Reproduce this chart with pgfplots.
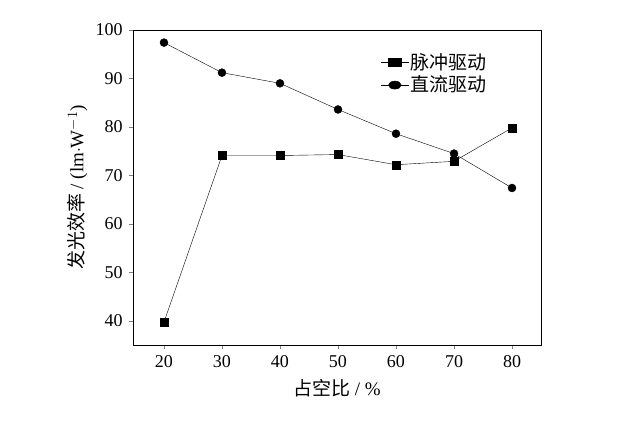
\documentclass[border=0pt]{standalone}
\usepackage{pgfplots}
\pgfplotsset{compat=1.18}
\usepackage{fontspec}
\setmainfont{Liberation Serif}
\newfontfamily\cjk{Noto Sans CJK SC}
\begin{document}
\fontsize{18}{20}\selectfont
\begin{tikzpicture}
\path[use as bounding box] (-133pt,-76pt) rectangle (485pt,345pt);
\begin{axis}[at={(0,0)},anchor=south west,scale only axis,width=408pt,height=315pt,
 xmin=14.66,xmax=85,ymin=35,ymax=100,
 xtick={20,30,...,80},ytick={40,50,...,100},
 tick align=outside,tick pos=left,
 /pgf/number format/assume math mode=true,
 ticklabel style={font=\fontsize{18}{20}\selectfont},
 xlabel={{\cjk 占空比} / \%},
 ylabel={{\cjk 发光效率} / (lm$\cdot$W$^{-1}$)},
 ylabel style={yshift=-4pt},
 label style={font=\fontsize{19}{21}\selectfont},
 legend style={draw=none,fill=none,at={(0.6,0.94)},anchor=north west,font=\fontsize{19}{24}\selectfont},
 legend image post style={xscale=1.6},
 legend cell align=left]
\addplot[black,mark=square*,mark size=4pt] coordinates {(20,39.7)(30,74.1)(40,74.1)(50,74.3)(60,72.2)(70,72.9)(80,79.8)};
\addlegendentry{\cjk 脉冲驱动}
\addplot[black,mark=*,mark size=4pt] coordinates {(20,97.4)(30,91.2)(40,89.0)(50,83.6)(60,78.6)(70,74.5)(80,67.4)};
\addlegendentry{\cjk 直流驱动}
\end{axis}
\end{tikzpicture}
\end{document}
